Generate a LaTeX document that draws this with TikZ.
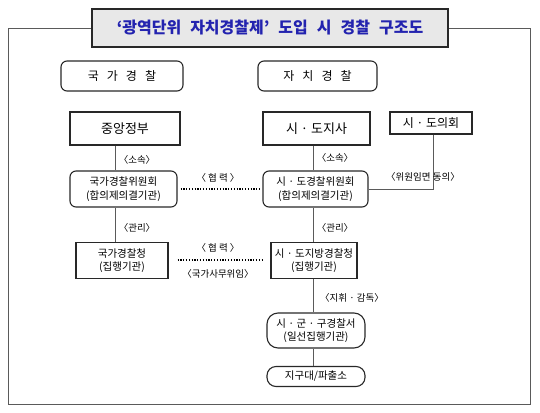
\documentclass[tikz,border=0pt]{standalone}
\usepackage{fontspec}
\setmainfont{Noto Sans CJK KR}
\newfontfamily\kr{Noto Sans CJK KR}
\definecolor{titleblue}{RGB}{35,35,175}
\definecolor{boxline}{RGB}{40,40,40}
\definecolor{conn}{RGB}{90,90,90}
\newcommand{\gapk}{\hspace{8pt}}
\begin{document}
\begin{tikzpicture}[x=1pt,y=-1pt,
  box/.style={draw=boxline,line width=1.1pt,fill=white,inner sep=0pt,align=center,font=\kr\fontsize{10.5}{13.5}\selectfont},
  rbox/.style={box,rounded corners=6pt},
  pbox/.style={box,rounded corners=11pt},
  lbl/.style={font=\kr\fontsize{9.5}{11}\selectfont,inner sep=0pt},
  conline/.style={draw=conn,line width=0.9pt},
  dotline/.style={draw=black,line width=1.4pt,dash pattern=on 1.2pt off 1.6pt}]
\useasboundingbox (0,0) rectangle (540,412);
% outer frame
\draw[draw=conn,line width=0.9pt] (8,28) rectangle (530,404);
% title
\node[draw=boxline,line width=1.6pt,fill=gray!18,minimum width=356pt,minimum height=38pt,inner sep=0pt,
  font=\kr\bfseries\fontsize{16}{18}\selectfont,text=titleblue] (title) at (270,28) {\spaceskip=9pt ‘광역단위 자치경찰제’ 도입 시 경찰 구조도};
% headers
\node[rbox,minimum width=122pt,minimum height=30pt,font=\kr\fontsize{12}{14}\selectfont] (hk) at (122,76) {국\gapk 가\gapk 경\gapk 찰};
\node[rbox,minimum width=119pt,minimum height=30pt,font=\kr\fontsize{12}{14}\selectfont] (hj) at (317.5,76) {자\gapk 치\gapk 경\gapk 찰};
% left column
\node[box,minimum width=110pt,minimum height=33pt,font=\kr\fontsize{13}{15}\selectfont] (jg) at (125,128.5) {중앙정부};
\node[rbox,minimum width=107pt,minimum height=36pt] (kwc) at (123.5,189) {국가경찰위원회\\(합의제의결기관)};
\node[box,minimum width=92pt,minimum height=36pt] (kpa) at (122,260.5) {국가경찰청\\(집행기관)};
% right column
\node[box,minimum width=107pt,minimum height=33pt,font=\kr\fontsize{13}{15}\selectfont] (sd) at (316.5,128.5) {시 · 도지사};
\node[box,minimum width=82pt,minimum height=22pt,font=\kr\fontsize{12}{14}\selectfont] (sdc) at (431,123) {시 · 도의회};
\node[rbox,minimum width=105pt,minimum height=36pt] (swc) at (315.5,189) {시 · 도경찰위원회\\(합의제의결기관)};
\node[box,minimum width=86pt,minimum height=36pt] (spa) at (314,260.5) {시 · 도지방경찰청\\(집행기관)};
\node[pbox,minimum width=98pt,minimum height=35pt] (scs) at (316,330.5) {시 · 군 · 구경찰서\\(일선집행기관)};
\node[pbox,minimum width=98pt,minimum height=20pt,rounded corners=9pt] (jgd) at (316,376.5) {지구대/파출소};
% connector x positions
\coordinate (lx) at (115,0);
\coordinate (rx) at (313,0);
\coordinate (cx) at (433,0);
% left connectors
\draw[conline] (jg.south -| lx) -- (kwc.north -| lx);
\draw[conline] (kwc.south -| lx) -- (kpa.north -| lx);
\node[lbl] (l1) at (137,160) {〈소속〉};
\node[lbl] (l2) at (137,228) {〈관리〉};
% right connectors
\draw[conline] (sd.south -| rx) -- (swc.north -| rx);
\draw[conline] (swc.south -| rx) -- (spa.north -| rx);
\draw[conline] (spa.south -| rx) -- (scs.north -| rx);
\draw[conline] (scs.south -| rx) -- (jgd.north -| rx);
\node[lbl] (r1) at (335,158) {〈소속〉};
\node[lbl] (r2) at (335,228) {〈관리〉};
\node[lbl] (r3) at (352,298) {〈지휘 · 감독〉};
% council connector
\draw[conline] (sdc.south -| cx) |- (swc.east);
\node[lbl] (r4) at (423,177) {〈위원임면 동의〉};
% cooperation
\draw[dotline] ([xshift=3pt]kwc.east) -- ([xshift=-1pt]swc.west);
\node[lbl] (c1) at (218,178) {〈 협 력 〉};
\coordinate (d1) at ([xshift=9pt,yshift=0.5pt]kpa.east);
\coordinate (d2) at ([xshift=-8pt,yshift=0.5pt]spa.west);
\draw[dotline] (d1) -- (d2);
\node[lbl] (c2) at (218,248) {〈 협 력 〉};
\node[lbl] (c3) at (218,274) {〈국가사무위임〉};
\end{tikzpicture}
\end{document}
